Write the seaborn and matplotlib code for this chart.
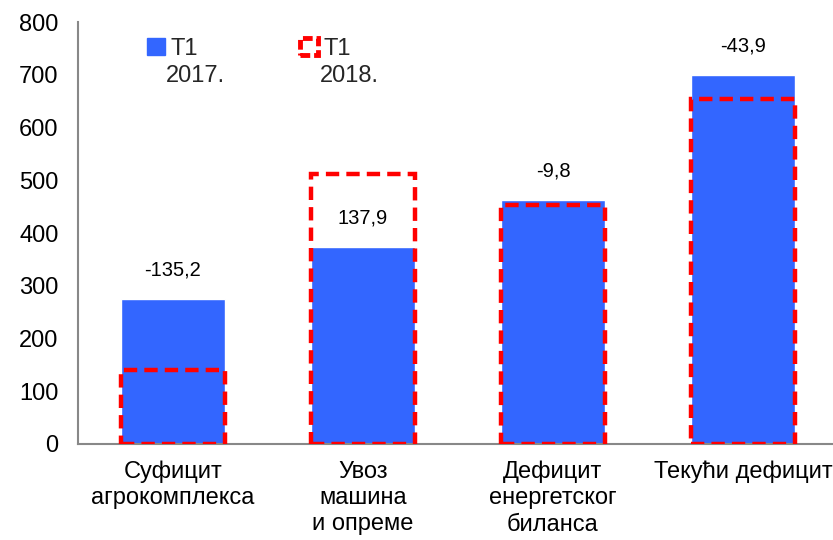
import pandas as pd
import matplotlib.pyplot as plt
import seaborn as sns
from matplotlib.patches import Patch

sns.set_theme(style="white")
plt.rcParams['font.family'] = ['Liberation Sans', 'DejaVu Sans']

# data (млн евра)
categories = ["Суфицит\nагрокомплекса", "Увоз\nмашина\nи опреме",
              "Дефицит\nенергетског\nбиланса", "Текући дефицит"]
t1_2017 = [274.5, 374.0, 463.0, 699.0]
t1_2018 = [139.3, 511.9, 453.2, 655.1]
diff_labels = ["-135,2", "137,9", "-9,8", "-43,9"]

blue = "#3366FF"
red = "#FF0000"

df = pd.DataFrame({"cat": categories, "y2017": t1_2017, "y2018": t1_2018})

fig = plt.figure(figsize=(8.33, 5.40), dpi=100)
ax = fig.add_axes([0.0936, 0.178, 0.9124, 0.781])

sns.barplot(data=df, x="cat", y="y2017", color=blue, width=0.55,
            saturation=1, ax=ax, zorder=2)
n = len(ax.patches)
sns.barplot(data=df, x="cat", y="y2018", width=0.55, fill=False,
            ax=ax, zorder=3)
for p in ax.patches[n:]:
    p.set_edgecolor(red)
    p.set_facecolor("none")
    p.set_linewidth(3.2)
    p.set_linestyle((0, (3, 1.6)))

for i, (v, lab) in enumerate(zip(t1_2017, diff_labels)):
    ax.text(i, v + 55, lab, ha="center", va="center", fontsize=14.5, color="black", zorder=4)

ax.set_ylim(0, 800)
ax.set_xlim(-0.5, 3.5)
ax.set_yticks(range(0, 801, 100))
ax.set_xlabel("")
ax.set_ylabel("")
ax.tick_params(axis="both", length=0, labelsize=17, colors="black")
ax.tick_params(axis="x", pad=12)
ax.tick_params(axis="y", pad=14)
for t in ax.get_xticklabels():
    t.set_linespacing(1.25)
for s in ["top", "right"]:
    ax.spines[s].set_visible(False)
for s in ["left", "bottom"]:
    ax.spines[s].set_color("#888888")
    ax.spines[s].set_linewidth(1.5)

# legend: two separate entries, year on a second line
h17 = Patch(facecolor=blue, edgecolor=blue)
h18 = Patch(facecolor="white", edgecolor=red, linewidth=3.5, linestyle=(0, (2, 0.8)))
for h, x0 in [(h17, 147), (h18, 300)]:
    fig.legend([h], ["T1"], frameon=False, fontsize=17, loc="upper left",
               bbox_to_anchor=(x0 / 833, 1 - 38 / 540),
               handlelength=0.75, handleheight=0.75, handletextpad=0.25,
               borderaxespad=0, borderpad=0)
fig.text(166 / 833, 1 - 76 / 540, "2017.", fontsize=17, va="center", ha="left")
fig.text(320 / 833, 1 - 76 / 540, "2018.", fontsize=17, va="center", ha="left")

fig.savefig("out.png", dpi=100)
